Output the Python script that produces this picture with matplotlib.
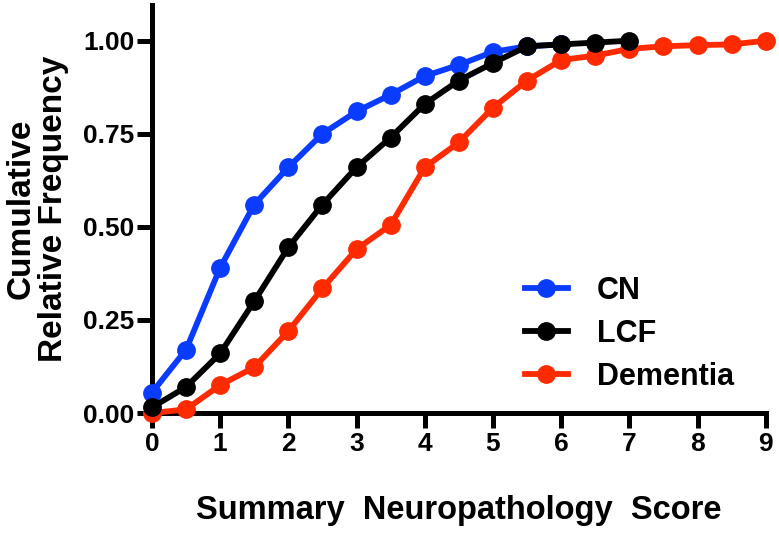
import matplotlib.pyplot as plt

# summary neuropathology score (x) and cumulative relative frequency per group
score_cn = [0, 0.5, 1, 1.5, 2, 2.5, 3, 3.5, 4, 4.5, 5, 5.5, 6]
freq_cn = [0.055, 0.17, 0.39, 0.56, 0.66, 0.75, 0.81, 0.855, 0.905, 0.935, 0.97, 0.985, 0.99]

score_lcf = [0, 0.5, 1, 1.5, 2, 2.5, 3, 3.5, 4, 4.5, 5, 5.5, 6, 6.5, 7]
freq_lcf = [0.015, 0.07, 0.16, 0.30, 0.445, 0.56, 0.66, 0.74, 0.83, 0.893, 0.94, 0.985, 0.99, 0.995, 1.0]

score_dem = [0, 0.5, 1, 1.5, 2, 2.5, 3, 3.5, 4, 4.5, 5, 5.5, 6, 6.5, 7, 7.5, 8, 8.5, 9]
freq_dem = [0.0, 0.01, 0.075, 0.123, 0.22, 0.335, 0.44, 0.505, 0.66, 0.727, 0.82, 0.893, 0.948,
            0.96, 0.978, 0.985, 0.988, 0.99, 1.0]

x_ticks = list(range(0, 10))
y_ticks = [0.0, 0.25, 0.5, 0.75, 1.0]

plt.rcParams['font.family'] = ['Liberation Sans', 'DejaVu Sans']
plt.rcParams['font.weight'] = 'bold'

fig = plt.figure(figsize=(7.79, 5.33), dpi=100)
ax = fig.add_axes([0.195, 0.225, 0.788, 0.765])

lw = 4.2
ms = 12.5
dem, = ax.plot(score_dem, freq_dem, '-o', color='#ff2b00', lw=lw, ms=ms, clip_on=False,
               label='Dementia', zorder=3)
cn, = ax.plot(score_cn, freq_cn, '-o', color='#0a3cff', lw=lw, ms=ms, clip_on=False,
              label='CN', zorder=4)
lcf, = ax.plot(score_lcf, freq_lcf, '-o', color='black', lw=lw, ms=ms, clip_on=False,
               label='LCF', zorder=5)

ax.set_xlim(0, 9)
ax.set_ylim(0, 1.095)
ax.set_xticks(x_ticks)
ax.set_yticks(y_ticks)
ax.set_yticklabels(['%.2f' % v for v in y_ticks])
ax.tick_params(axis='both', width=3.6, length=10.5, labelsize=19)
ax.tick_params(axis='x', pad=3)
ax.tick_params(axis='y', pad=2)
for s in ['top', 'right']:
    ax.spines[s].set_visible(False)
for s in ['left', 'bottom']:
    ax.spines[s].set_linewidth(3.6)
    ax.spines[s].set_zorder(2)

ax.set_xlabel('Summary  Neuropathology  Score', fontsize=23.5, fontweight='bold')
ax.xaxis.set_label_coords(0.5, -0.2)
ax.set_ylabel('Cumulative\nRelative Frequency', fontsize=24, fontweight='bold', linespacing=1.05)
ax.yaxis.set_label_coords(-0.135, 0.5)

ax.legend(handles=[cn, lcf, dem], loc='upper left', bbox_to_anchor=(0.674, 0.482),
          bbox_transform=fig.transFigure, frameon=False, fontsize=22, numpoints=1,
          handlelength=1.4, handletextpad=0.95, labelspacing=0.42, borderpad=0, borderaxespad=0)

fig.savefig('out.png', dpi=100)
